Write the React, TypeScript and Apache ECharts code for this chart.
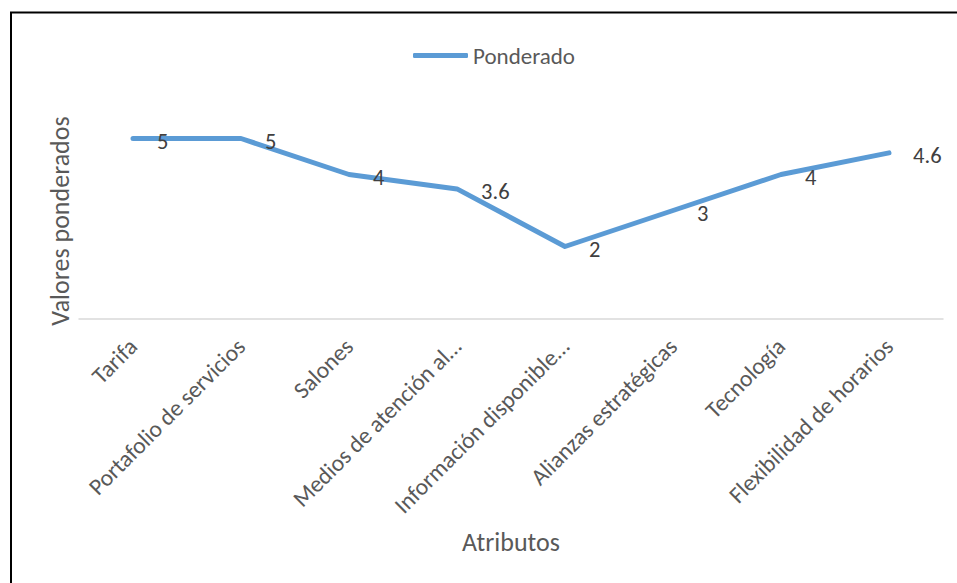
import React, { useEffect, useRef } from "react";
import * as echarts from "echarts";

const categories = [
  "Tarifa",
  "Portafolio de servicios",
  "Salones",
  "Medios de atención al…",
  "Información disponible…",
  "Alianzas estratégicas",
  "Tecnología",
  "Flexibilidad de horarios",
];
const ponderado = [5, 5, 4, 3.6, 2, 3, 4, 4.6];
const seriesName = "Ponderado";
const yTitle = "Valores ponderados";
const xTitle = "Atributos";

const FONT = "Carlito, Lato, sans-serif";

export default function App() {
  const ref = useRef<HTMLDivElement>(null);
  useEffect(() => {
    if (!ref.current) return;
    const chart = echarts.init(ref.current, undefined, { renderer: "svg" });
    chart.setOption({
      animation: false,
      backgroundColor: "#ffffff",
      textStyle: { fontFamily: FONT },
      legend: {
        left: 408,
        top: 39,
        icon: "roundRect",
        itemWidth: 55,
        itemHeight: 5,
        itemGap: 10,
        textStyle: { color: "#595959", fontSize: 23, fontFamily: FONT },
        data: [seriesName],
      },
      grid: { left: 79, right: 14, top: 102.5, bottom: 264.5, containLabel: false },
      xAxis: {
        type: "category",
        data: categories,
        boundaryGap: true,
        axisLine: { show: true, lineStyle: { color: "#d9d9d9", width: 1.5 } },
        axisTick: { show: false },
        axisLabel: {
          rotate: 45,
          interval: 0,
          margin: 24,
          color: "#595959",
          fontSize: 23.5,
          fontFamily: FONT,
        },
      },
      yAxis: {
        type: "value",
        min: 0,
        max: 6,
        interval: 1,
        show: false,
        splitLine: { show: false },
      },
      series: [
        {
          name: seriesName,
          type: "line",
          data: ponderado,
          symbol: "circle",
          symbolSize: 0.1,
          showSymbol: true,
          lineStyle: { color: "#5b9bd5", width: 5, cap: "round", join: "round" },
          itemStyle: { color: "#5b9bd5" },
          label: {
            show: true,
            position: "right",
            distance: 24,
            offset: [0, 3],
            color: "#404040",
            fontSize: 22.5,
            fontFamily: FONT,
          },
        },
      ],
      graphic: [
        {
          type: "rect",
          shape: { x: 11, y: 12.5, width: 1000, height: 1000 },
          style: { fill: "none", stroke: "#000000", lineWidth: 2 },
          silent: true,
        },
        {
          type: "text",
          x: 60,
          y: 221,
          rotation: Math.PI / 2,
          style: {
            text: yTitle,
            fill: "#595959",
            fontSize: 26,
            fontFamily: FONT,
            align: "center",
            verticalAlign: "middle",
          },
        },
        {
          type: "text",
          x: 511,
          y: 542,
          style: {
            text: xTitle,
            fill: "#595959",
            fontSize: 26,
            fontFamily: FONT,
            align: "center",
            verticalAlign: "middle",
          },
        },
      ],
    });
    return () => chart.dispose();
  }, []);
  return (
    <div
      ref={ref}
      style={{ position: "fixed", left: 0, top: 0, width: 957, height: 583 }}
    />
  );
}
